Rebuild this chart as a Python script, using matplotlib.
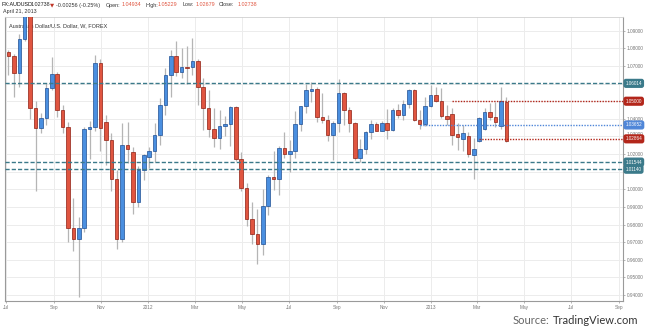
import matplotlib
matplotlib.use('Agg')
import matplotlib.pyplot as plt
import matplotlib.dates as mdates
import matplotlib.transforms as mtransforms
import pandas as pd
import numpy as np

# weekly AUD/USD candles
opens = [1.0779, 1.0756, 1.0658, 1.0851, 1.1000, 1.0461, 1.0347, 1.0404, 1.0574, 1.0654,
         1.0449, 1.0353, 0.9780, 0.9720, 0.9780, 1.0345, 1.0355, 1.0716, 1.0381, 1.0279,
         1.0060, 0.9720, 1.0250, 1.0212, 0.9930, 1.0110, 1.0181, 1.0218, 1.0311, 1.0478,
         1.0648, 1.0756, 1.0663, 1.0695, 1.0692, 1.0728, 1.0582, 1.0459, 1.0340, 1.0292,
         1.0360, 1.0368, 1.0465, 1.0171, 1.0010, 0.9834, 0.9749, 0.9692, 0.9904, 1.0070,
         1.0057, 1.0237, 1.0203, 1.0218, 1.0370, 1.0470, 1.0559, 1.0572, 1.0411, 1.0396,
         1.0307, 1.0379, 1.0544, 1.0449, 1.0374, 1.0178, 1.0226, 1.0326, 1.0368, 1.0332,
         1.0379, 1.0336, 1.0449, 1.0421, 1.0483, 1.0563, 1.0396, 1.0370, 1.0472, 1.0538,
         1.0502, 1.0415, 1.0427, 1.0313, 1.0285, 1.0302, 1.0194, 1.0273, 1.0341, 1.0436,
         1.0411, 1.0358, 1.04934]
highs = [1.0790, 1.0767, 1.0881, 1.1080, 1.1050, 1.0500, 1.0432, 1.0603, 1.0751, 1.0665,
         1.0478, 1.0380, 0.9950, 0.9840, 1.0354, 1.0390, 1.0762, 1.0740, 1.0421, 1.0320,
         1.0110, 1.0374, 1.0383, 1.0240, 1.0130, 1.0200, 1.0240, 1.0374, 1.0516, 1.0686,
         1.0790, 1.0843, 1.0800, 1.0813, 1.0856, 1.0737, 1.0633, 1.0563, 1.0459, 1.0449,
         1.0415, 1.0472, 1.0472, 1.0212, 1.0033, 0.9928, 0.9891, 0.9999, 1.0080, 1.0218,
         1.0245, 1.0326, 1.0279, 1.0444, 1.0475, 1.0597, 1.0610, 1.0580, 1.0544, 1.0421,
         1.0390, 1.0624, 1.0550, 1.0468, 1.0380, 1.0288, 1.0330, 1.0392, 1.0380, 1.0385,
         1.0453, 1.0460, 1.0487, 1.0506, 1.0570, 1.0570, 1.0449, 1.0525, 1.0591, 1.0582,
         1.0576, 1.0478, 1.0459, 1.0374, 1.0364, 1.0326, 1.0294, 1.0410, 1.0459, 1.0491,
         1.0496, 1.0582, 1.05229]
lows = [1.0648, 1.0525, 1.0582, 1.0840, 1.0400, 0.9990, 1.0319, 1.0364, 1.0563, 1.0410,
        1.0319, 0.9700, 0.9650, 0.9387, 0.9760, 1.0170, 1.0330, 1.0220, 1.0140, 0.9990,
        0.9663, 0.9700, 1.0150, 0.9860, 0.9900, 1.0050, 1.0120, 1.0156, 1.0250, 1.0421,
        1.0525, 1.0642, 1.0629, 1.0597, 1.0648, 1.0478, 1.0336, 1.0298, 1.0241, 1.0226,
        1.0302, 1.0245, 1.0160, 0.9990, 0.9790, 0.9692, 0.9578, 0.9626, 0.9853, 0.9995,
        0.9966, 1.0180, 1.0099, 1.0175, 1.0330, 1.0434, 1.0496, 1.0380, 1.0374, 1.0275,
        1.0165, 1.0326, 1.0364, 1.0326, 1.0165, 1.0156, 1.0203, 1.0288, 1.0330, 1.0330,
        1.0285, 1.0330, 1.0402, 1.0392, 1.0459, 1.0390, 1.0345, 1.0360, 1.0465, 1.0495,
        1.0402, 1.0364, 1.0250, 1.0222, 1.0218, 1.0181, 1.0061, 1.0270, 1.0336, 1.0392,
        1.0354, 1.0345, 1.02679]
closes = [1.0756, 1.0658, 1.0851, 1.1000, 1.0461, 1.0347, 1.0404, 1.0574, 1.0654, 1.0449,
          1.0353, 0.9780, 0.9720, 0.9780, 1.0345, 1.0355, 1.0716, 1.0347, 1.0279, 1.0060,
          0.9720, 1.0250, 1.0230, 0.9930, 1.0110, 1.0194, 1.0218, 1.0311, 1.0478, 1.0648,
          1.0756, 1.0663, 1.0695, 1.0689, 1.0728, 1.0582, 1.0462, 1.0340, 1.0292, 1.0360,
          1.0368, 1.0465, 1.0171, 1.0010, 0.9834, 0.9749, 0.9692, 0.9904, 1.0070, 1.0057,
          1.0237, 1.0203, 1.0218, 1.0370, 1.0470, 1.0563, 1.0572, 1.0411, 1.0396, 1.0307,
          1.0379, 1.0544, 1.0449, 1.0379, 1.0178, 1.0226, 1.0326, 1.0368, 1.0332, 1.0379,
          1.0336, 1.0449, 1.0421, 1.0483, 1.0563, 1.0396, 1.0370, 1.0472, 1.0538, 1.0502,
          1.0415, 1.0398, 1.0307, 1.0298, 1.0317, 1.0198, 1.0226, 1.0406, 1.0440, 1.0411,
          1.0383, 1.0500, 1.02738]

# horizontal levels: value, colour, style, first candle index (None = full width)
levels = [1.06014, 1.05000, 1.03652, 1.02864, 1.01544, 1.01140]
level_colors = ['#3b7a8a', '#b3261a', '#4f86d8', '#b3261a', '#3b7a8a', '#3b7a8a']
level_styles = [(0, (3, 1.5)), (0, (1, 1)), (0, (1, 1)), (0, (1, 1)), (0, (3, 1.5)), (0, (3, 1.5))]
level_start = [None, 82, 76, 87, None, None]

# 1.01, 1.05 and 1.06 sit under the level boxes
ytick_vals = [0.94, 0.95, 0.96, 0.97, 0.98, 0.99, 1.00, 1.02, 1.03, 1.04, 1.07, 1.08, 1.09]
xtick_dates = ['2011-07-01', '2011-09-01', '2011-11-01', '2012-01-01', '2012-03-01', '2012-05-01',
               '2012-07-01', '2012-09-01', '2012-11-01', '2013-01-01', '2013-03-01', '2013-05-01',
               '2013-07-01', '2013-09-01']
xtick_labels = ['Jul', 'Sep', 'Nov', '2012', 'Mar', 'May', 'Jul', 'Sep', 'Nov', '2013', 'Mar', 'May', 'Jul', 'Sep']

dates = mdates.date2num(pd.date_range('2011-07-04', periods=len(opens), freq='7D'))

UP_FACE, UP_EDGE = '#4a8fe0', '#1f4f93'
DN_FACE, DN_EDGE = '#e05540', '#8e1f12'
SMALL = 'Liberation Sans'

fig = plt.figure(figsize=(6.45, 3.31), dpi=100)
ax = fig.add_axes([5 / 645, 1 - 301 / 331, 618 / 645, 284 / 331])

o = np.array(opens); h = np.array(highs); l = np.array(lows); c = np.array(closes)
up = c >= o
ax.vlines(dates, l, h, color='#b5b5b5', lw=0.9, zorder=2)
bottoms = np.minimum(o, c)
heights = np.maximum(np.abs(c - o), 0.0004)
ax.bar(dates[up], heights[up], bottom=bottoms[up], width=4.6, color=UP_FACE,
       edgecolor=UP_EDGE, linewidth=0.5, zorder=3)
ax.bar(dates[~up], heights[~up], bottom=bottoms[~up], width=4.6, color=DN_FACE,
       edgecolor=DN_EDGE, linewidth=0.5, zorder=3)

x0 = mdates.date2num(pd.Timestamp('2011-06-29 12:00'))
x1 = mdates.date2num(pd.Timestamp('2013-09-06'))
ax.set_xlim(x0, x1)
ax.set_ylim(0.9366, 1.0978)

for val, col, ls, start in zip(levels, level_colors, level_styles, level_start):
    xs = x0 if start is None else dates[start]
    ax.plot([xs, x1], [val, val], color=col, lw=1.0, ls=ls, zorder=4)
    ax.annotate(f'{val:.5f}', xy=(1.0, val), xycoords=('axes fraction', 'data'),
                xytext=(1.8, 0), textcoords='offset points', ha='left', va='center',
                fontsize=3.3, family=SMALL, color='white', annotation_clip=False,
                bbox=dict(boxstyle='round,pad=0.3,rounding_size=0.4', fc=col, ec=col))

ax.yaxis.tick_right()
ax.set_yticks(ytick_vals)
ax.set_yticklabels([f'{v:.5f}' for v in ytick_vals])
ax.set_yticks([1.01, 1.05, 1.06], minor=True)
ax.set_xticks(mdates.date2num(pd.to_datetime(xtick_dates)))
ax.set_xticklabels(xtick_labels)
ax.tick_params(axis='both', which='both', labelsize=3.4, labelcolor='#777777', color='#999999',
               length=1.5, width=0.5, pad=1.2)
for t in ax.get_xticklabels() + ax.get_yticklabels():
    t.set_family(SMALL)
# 1.03000 sits just above the 1.02864 box, as in the original
for t in ax.get_yticklabels():
    if t.get_text() == '1.03000':
        t.set_transform(t.get_transform() + mtransforms.ScaledTranslation(0, 1.6 / 72, fig.dpi_scale_trans))
ax.grid(True, which='both', color='#ececec', lw=0.7, zorder=0)
ax.set_axisbelow(True)
for side in ['left', 'right', 'bottom']:
    ax.spines[side].set_color('#9a9a9a')
    ax.spines[side].set_linewidth(0.8)
ax.spines['top'].set_color('#d0d0d0')
ax.spines['top'].set_linewidth(0.6)

ax.text(0.006, 0.978, 'Australian Dollar/U.S. Dollar, W, FOREX', transform=ax.transAxes,
        fontsize=4.0, family=SMALL, color='#333333', ha='left', va='top', zorder=1)

# header line
hy = 1 - 5 / 331
header = [(1, 'FX:AUDUSD', '#111111'), (31, '1.02738', '#222222'), (50, '▼', '#c0392b'),
          (56, '-0.00256 (-0.25%)', '#333333'), (106, 'Open:', '#333333'), (122, '1.04934', '#e05540'),
          (145, 'High:', '#333333'), (158, '1.05229', '#e05540'), (182, 'Low:', '#333333'),
          (196, '1.02679', '#e05540'), (219, 'Close:', '#333333'), (238, '1.02738', '#e05540')]
for px, txt, col in header:
    fam = 'DejaVu Sans' if txt == '▼' else SMALL
    fig.text(px / 645, hy, txt, fontsize=3.9, family=fam, color=col, ha='left', va='center')
fig.text(3 / 645, 1 - 12 / 331, 'April 21, 2013', fontsize=3.9, family=SMALL, color='#333333',
         ha='left', va='center')

# source note, right aligned
src_y = 1 - 320 / 331
tv = fig.text(638 / 645, src_y, 'TradingView.com', fontsize=8, family='Lato', color='#333333',
              ha='right', va='center')
fig.canvas.draw()
bb = tv.get_window_extent(fig.canvas.get_renderer())
fig.text((bb.x0 - 3) / 645, src_y, 'Source:', fontsize=8, family='Lato', color='#666666',
         ha='right', va='center')

fig.savefig('out.png', dpi=100)
